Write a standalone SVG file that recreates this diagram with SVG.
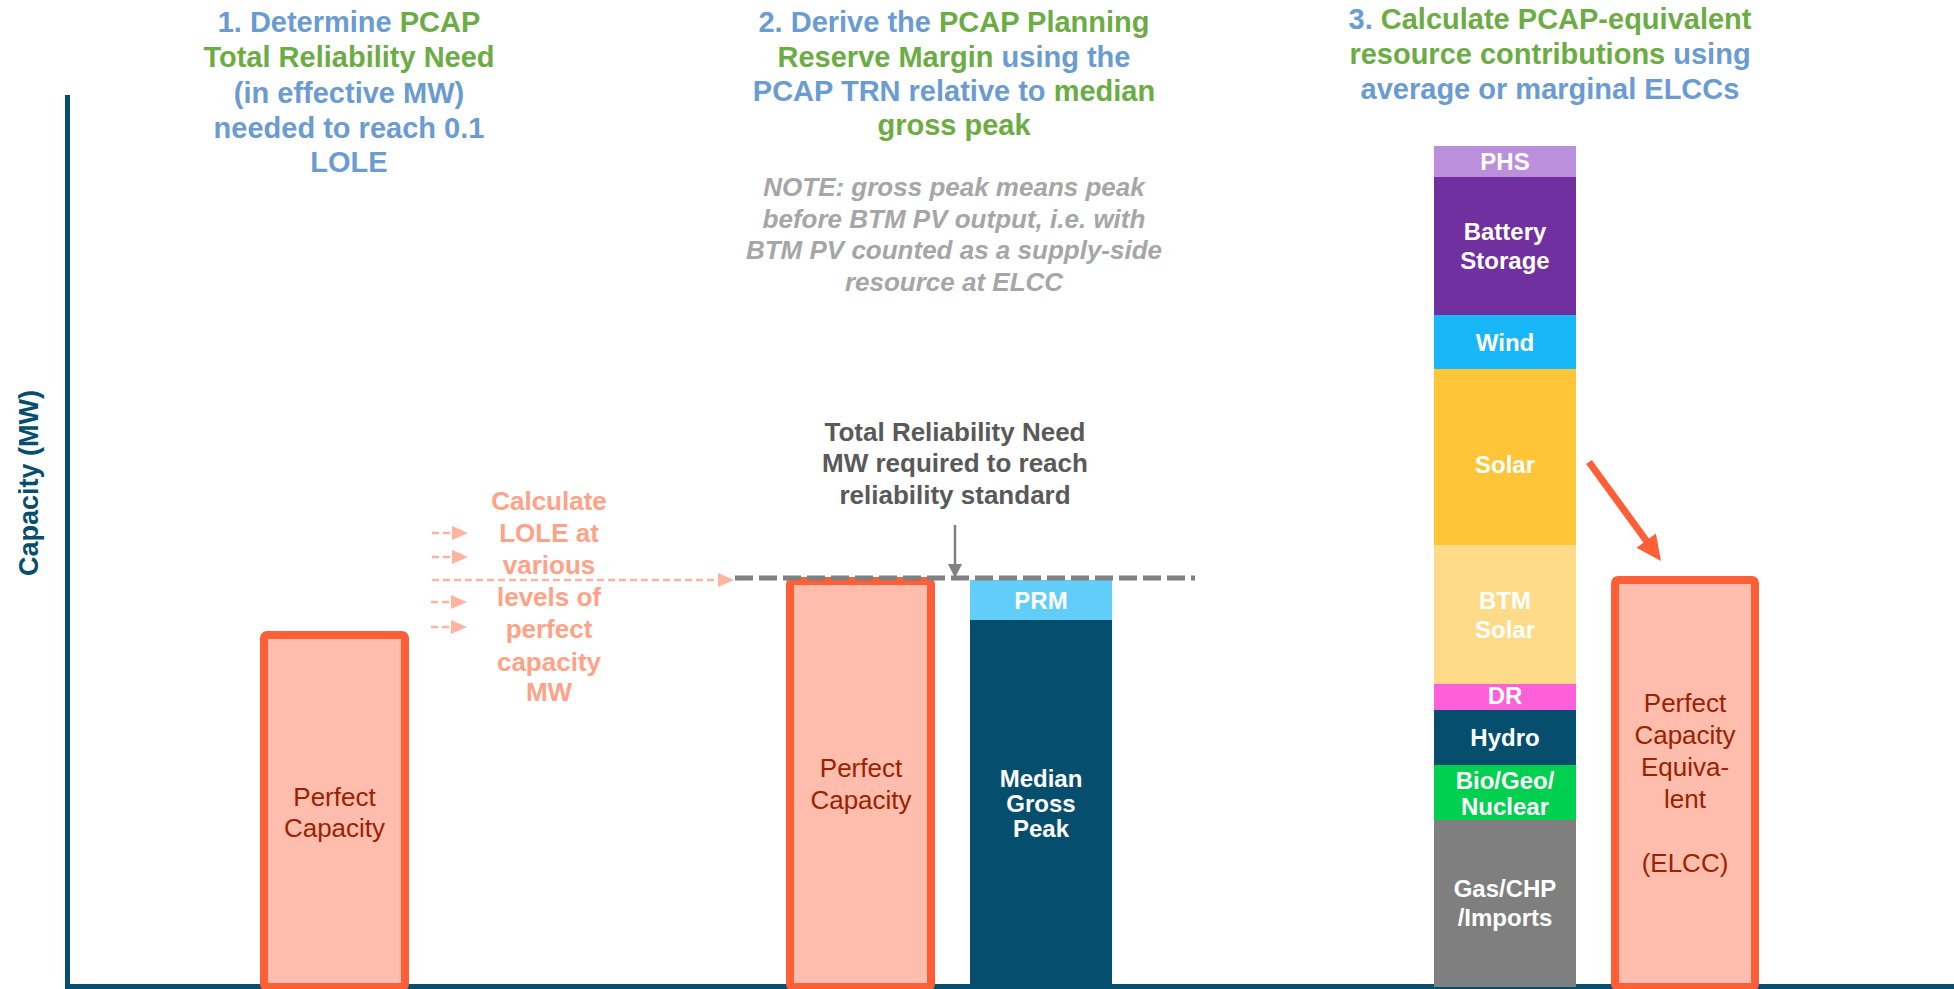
<svg xmlns="http://www.w3.org/2000/svg" width="1954" height="989" viewBox="0 0 1954 989">
<defs>
<style>
.hd{font-family:"Liberation Sans",Arial,sans-serif;font-weight:bold;font-size:29px;text-anchor:middle}
.b{fill:#6A9BD1}
.g{fill:#6CAC44}
.note{font-family:"Liberation Sans",Arial,sans-serif;font-weight:bold;font-style:italic;font-size:26px;fill:#A6A6A6;text-anchor:middle}
.pc{font-family:"Liberation Sans",Arial,sans-serif;font-size:26px;fill:#9A2200;text-anchor:middle}
.wl{font-family:"Liberation Sans",Arial,sans-serif;font-weight:bold;font-size:24px;fill:#FFFFFF;text-anchor:middle}
.pk{font-family:"Liberation Sans",Arial,sans-serif;font-weight:bold;font-size:26px;fill:#FFA287;text-anchor:middle}
.gy{font-family:"Liberation Sans",Arial,sans-serif;font-weight:bold;font-size:26px;fill:#595959;text-anchor:middle}
.pbox{fill:#FFBDAD;stroke:#FF5F37;stroke-width:8}
.pdash{stroke:#FFB4A0;stroke-width:2.5;stroke-dasharray:7 4;fill:none}
</style>
</defs>

<g id="axes">
<rect x="65" y="95" width="5" height="894" fill="#054E6E"/>
<rect x="65" y="984" width="1889" height="5" fill="#054E6E"/>
<text transform="translate(38,483) rotate(-90)" font-family="Liberation Sans, Arial, sans-serif" font-weight="bold" font-size="27" fill="#054E6E" text-anchor="middle">Capacity (MW)</text>
</g>

<g id="header1">
<text class="hd" x="349" y="32"><tspan class="b">1. Determine </tspan><tspan class="g">PCAP</tspan></text>
<text class="hd g" x="349" y="67">Total Reliability Need</text>
<text class="hd b" x="349" y="103">(in effective MW)</text>
<text class="hd b" x="349" y="138">needed to reach 0.1</text>
<text class="hd b" x="349" y="172">LOLE</text>
</g>

<g id="header2">
<text class="hd" x="954" y="32"><tspan class="b">2. Derive the </tspan><tspan class="g">PCAP Planning</tspan></text>
<text class="hd" x="954" y="67"><tspan class="g">Reserve Margin</tspan><tspan class="b"> using the</tspan></text>
<text class="hd" x="954" y="101"><tspan class="b">PCAP TRN relative to </tspan><tspan class="g">median</tspan></text>
<text class="hd g" x="954" y="135">gross peak</text>
</g>

<g id="note">
<text class="note" x="954" y="196">NOTE: gross peak means peak</text>
<text class="note" x="954" y="228">before BTM PV output, i.e. with</text>
<text class="note" x="954" y="259">BTM PV counted as a supply-side</text>
<text class="note" x="954" y="291">resource at ELCC</text>
</g>

<g id="header3">
<text class="hd" x="1550" y="29"><tspan class="b">3. </tspan><tspan class="g">Calculate PCAP-equivalent</tspan></text>
<text class="hd" x="1550" y="64"><tspan class="g">resource contributions</tspan><tspan class="b"> using</tspan></text>
<text class="hd b" x="1550" y="99">average or marginal ELCCs</text>
</g>

<g id="bar1">
<rect class="pbox" x="264" y="635" width="141" height="352" rx="3"/>
<text class="pc" x="334.5" y="806">Perfect</text>
<text class="pc" x="334.5" y="837">Capacity</text>
</g>

<g id="lole-label">
<text class="pk" x="549" y="510">Calculate</text>
<text class="pk" x="549" y="542">LOLE at</text>
<text class="pk" x="549" y="574">various</text>
<text class="pk" x="549" y="606">levels of</text>
<text class="pk" x="549" y="638">perfect</text>
<text class="pk" x="549" y="671">capacity</text>
<text class="pk" x="549" y="701">MW</text>
</g>

<g id="bar2">
<rect class="pbox" x="790" y="581" width="141" height="406" rx="3"/>
<text class="pc" x="861" y="777">Perfect</text>
<text class="pc" x="861" y="809">Capacity</text>
</g>

<g id="median-peak">
<rect x="970" y="580" width="142" height="40" fill="#63CDF9"/>
<text class="wl" x="1041" y="609" font-size="21">PRM</text>
<rect x="970" y="620" width="142" height="367" fill="#054E6E"/>
<text class="wl" x="1041" y="787" font-size="21">Median</text>
<text class="wl" x="1041" y="812" font-size="21">Gross</text>
<text class="wl" x="1041" y="837" font-size="21">Peak</text>
</g>

<g id="trn-label">
<text class="gy" x="955" y="441">Total Reliability Need</text>
<text class="gy" x="955" y="472">MW required to reach</text>
<text class="gy" x="955" y="504">reliability standard</text>
</g>

<g id="resource-stack">
<rect x="1434" y="146" width="142" height="31" fill="#BC8FDD"/>
<text class="wl" x="1505" y="170" font-size="23">PHS</text>
<rect x="1434" y="177" width="142" height="138" fill="#7030A0"/>
<text class="wl" x="1505" y="240">Battery</text>
<text class="wl" x="1505" y="269">Storage</text>
<rect x="1434" y="315" width="142" height="54" fill="#18B8F8"/>
<text class="wl" x="1505" y="351">Wind</text>
<rect x="1434" y="369" width="142" height="176" fill="#FEC538"/>
<text class="wl" x="1505" y="473">Solar</text>
<rect x="1434" y="545" width="142" height="139" fill="#FDDB88"/>
<text class="wl" x="1505" y="609">BTM</text>
<text class="wl" x="1505" y="638">Solar</text>
<rect x="1434" y="684" width="142" height="26" fill="#FF5FD8"/>
<text class="wl" x="1505" y="704" font-size="20">DR</text>
<rect x="1434" y="710" width="142" height="55" fill="#054E6E"/>
<text class="wl" x="1505" y="746">Hydro</text>
<rect x="1434" y="765" width="142" height="55" fill="#00D050"/>
<text class="wl" x="1505" y="789" font-size="21">Bio/Geo/</text>
<text class="wl" x="1505" y="815" font-size="21">Nuclear</text>
<rect x="1434" y="820" width="142" height="167" fill="#7F7F7F"/>
<text class="wl" x="1505" y="897">Gas/CHP</text>
<text class="wl" x="1505" y="926">/Imports</text>
</g>

<g id="bar3">
<rect class="pbox" x="1615" y="580" width="140" height="407" rx="3"/>
<text class="pc" x="1685" y="712">Perfect</text>
<text class="pc" x="1685" y="744">Capacity</text>
<text class="pc" x="1685" y="776">Equiva-</text>
<text class="pc" x="1685" y="808">lent</text>
<text class="pc" x="1685" y="872">(ELCC)</text>
</g>

<g id="connectors">
<line x1="432" y1="533" x2="453" y2="533" class="pdash"/>
<polygon points="452,526 468,533 452,540" fill="#FFB4A0"/>
<line x1="432" y1="557" x2="453" y2="557" class="pdash"/>
<polygon points="452,550 468,557 452,564" fill="#FFB4A0"/>
<line x1="432" y1="580" x2="719" y2="580" class="pdash"/>
<polygon points="718,573 734,580 718,587" fill="#FFB4A0"/>
<line x1="431" y1="602" x2="452" y2="602" class="pdash"/>
<polygon points="451,595 467,602 451,609" fill="#FFB4A0"/>
<line x1="431" y1="627" x2="452" y2="627" class="pdash"/>
<polygon points="451,620 467,627 451,634" fill="#FFB4A0"/>
<line x1="735" y1="578" x2="1195" y2="578" stroke="#808080" stroke-width="5" stroke-dasharray="18 6"/>
<line x1="955" y1="525" x2="955" y2="566" stroke="#808080" stroke-width="2.5"/>
<polygon points="948,564 962,564 955,578" fill="#808080"/>
<line x1="1589" y1="462" x2="1648" y2="543" stroke="#FF5F37" stroke-width="7"/>
<polygon points="1636.5,547.8 1655.9,533.6 1661,561" fill="#FF5F37"/>
</g>
</svg>
